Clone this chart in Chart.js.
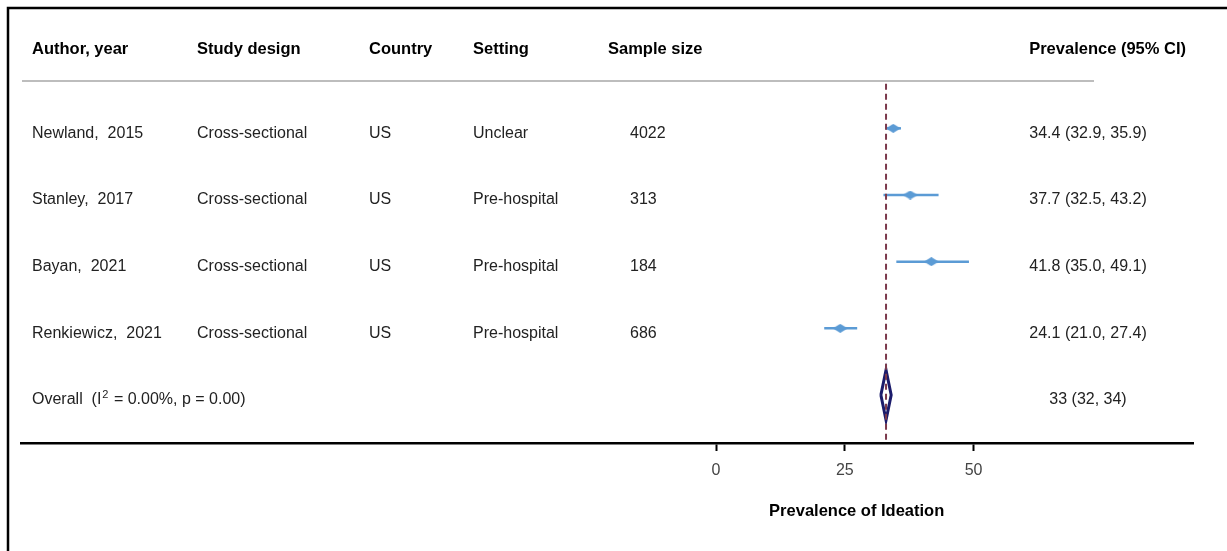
<!DOCTYPE html>
<html>
<head>
<meta charset="utf-8">
<script src="https://cdn.jsdelivr.net/npm/chart.js@4/dist/chart.umd.min.js"></script>
<style>
  html, body { margin: 0; padding: 0; background: #ffffff; }
  canvas { display: block; }
</style>
</head>
<body>
<canvas id="forest" width="1227" height="551"></canvas>
<script>
// ---- study table ----
const authors = ['Newland,  2015', 'Stanley,  2017', 'Bayan,  2021', 'Renkiewicz,  2021'];
const designs = ['Cross-sectional', 'Cross-sectional', 'Cross-sectional', 'Cross-sectional'];
const countries = ['US', 'US', 'US', 'US'];
const settings = ['Unclear', 'Pre-hospital', 'Pre-hospital', 'Pre-hospital'];
const sampleSizes = [4022, 313, 184, 686];

// ---- prevalence estimates (%) with 95% CI ----
const estimates = [34.4, 37.7, 41.8, 24.1];
const lowerCI = [32.9, 32.5, 35.0, 21.0];
const upperCI = [35.9, 43.2, 49.1, 27.4];

// ---- pooled estimate ----
const overallLabelParts = ['Overall  (I', '2', ' = 0.00%, p = 0.00)'];
const overallEstimate = 33;
const overallLower = 32;
const overallUpper = 34;

// ---- headers and axis ----
const headers = ['Author, year', 'Study design', 'Country', 'Setting', 'Sample size', 'Prevalence (95% CI)'];
const xTicks = [0, 25, 50];
const xTitle = 'Prevalence of Ideation';

// ---- layout / style ----
const FONT = '"Liberation Sans", Arial, sans-serif';
const X_MIN = -134.95, X_MAX = 92.6;
const Y_MIN = -0.71, Y_MAX = 4.72;
const DIAMOND_HALF = 0.375;          // half-height of the pooled diamond, in row units
const TEXT_DY = 5;                   // text sits slightly below the marker centre
const colX = [32, 197, 369, 473, 630];
const sampleHeaderX = 608;
const prevCenterX = 1088;
const prevHeaderRight = 1186;
const ciColor = '#5b9bd5';
const textColor = '#222222';

// flattened diamond marker for the study estimates
function makeMarker(w, h, color) {
  const c = document.createElement('canvas');
  c.width = w; c.height = h;
  const g = c.getContext('2d');
  g.fillStyle = color;
  g.beginPath();
  g.moveTo(0, h / 2); g.lineTo(w / 2, 0); g.lineTo(w, h / 2); g.lineTo(w / 2, h);
  g.closePath(); g.fill();
  return c;
}
const marker = makeMarker(15, 9, ciColor);

const nRows = authors.length;
const ciDatasets = estimates.map((_, i) => ({
  type: 'line',
  data: [{ x: lowerCI[i], y: i }, { x: upperCI[i], y: i }],
  borderColor: ciColor,
  borderWidth: 2.5,
  pointRadius: 0,
  fill: false,
  order: 3,
  clip: false
}));

const pointDataset = {
  type: 'scatter',
  data: estimates.map((v, i) => ({ x: v, y: i })),
  pointStyle: marker,
  pointRadius: 8,
  order: 2,
  clip: false
};

const diamondDataset = {
  type: 'line',
  data: [
    { x: overallLower, y: nRows },
    { x: overallEstimate, y: nRows - DIAMOND_HALF },
    { x: overallUpper, y: nRows },
    { x: overallEstimate, y: nRows + DIAMOND_HALF },
    { x: overallLower, y: nRows }
  ],
  borderColor: '#1b1b6b',
  borderWidth: 3,
  borderJoinStyle: 'miter',
  pointRadius: 0,
  fill: false,
  tension: 0,
  order: 1,
  clip: false
};

const refLineDataset = {
  type: 'line',
  data: [{ x: overallEstimate, y: Y_MIN + 0.04 }, { x: overallEstimate, y: Y_MAX }],
  borderColor: '#7b3a4c',
  borderWidth: 2,
  borderDash: [6, 4],
  pointRadius: 0,
  fill: false,
  order: 0,
  clip: false
};

const tablePlugin = {
  id: 'forestTable',
  afterDraw(chart) {
    const ctx = chart.ctx;
    const xs = chart.scales.x, ys = chart.scales.y;
    ctx.save();

    // frame
    ctx.strokeStyle = '#000';
    ctx.lineWidth = 2.5;
    ctx.strokeRect(8, 8, 1400, 800);

    // header row
    ctx.fillStyle = '#000';
    ctx.font = 'bold 16.5px ' + FONT;
    ctx.textBaseline = 'middle';
    ctx.textAlign = 'left';
    const hy = 49;
    for (let c = 0; c < 4; c++) ctx.fillText(headers[c], colX[c], hy);
    ctx.fillText(headers[4], sampleHeaderX, hy);
    ctx.textAlign = 'right';
    ctx.fillText(headers[5], prevHeaderRight, hy);

    // header rule
    ctx.strokeStyle = '#bdbdbd';
    ctx.lineWidth = 2;
    ctx.beginPath();
    ctx.moveTo(22, 81); ctx.lineTo(1094, 81);
    ctx.stroke();

    // study rows
    ctx.fillStyle = textColor;
    ctx.font = '16px ' + FONT;
    for (let i = 0; i < nRows; i++) {
      const y = ys.getPixelForValue(i) + TEXT_DY;
      ctx.textAlign = 'left';
      ctx.fillText(authors[i], colX[0], y);
      ctx.fillText(designs[i], colX[1], y);
      ctx.fillText(countries[i], colX[2], y);
      ctx.fillText(settings[i], colX[3], y);
      ctx.fillText(String(sampleSizes[i]), colX[4], y);
      ctx.textAlign = 'center';
      ctx.fillText(
        estimates[i].toFixed(1) + ' (' + lowerCI[i].toFixed(1) + ', ' + upperCI[i].toFixed(1) + ')',
        prevCenterX, y);
    }

    // pooled row, with a raised superscript
    const oy = ys.getPixelForValue(nRows) + TEXT_DY;
    ctx.textAlign = 'left';
    let tx = colX[0];
    ctx.fillText(overallLabelParts[0], tx, oy);
    tx += ctx.measureText(overallLabelParts[0]).width + 1;
    ctx.font = '11px ' + FONT;
    ctx.fillText(overallLabelParts[1], tx, oy - 5);
    tx += ctx.measureText(overallLabelParts[1]).width + 1;
    ctx.font = '16px ' + FONT;
    ctx.fillText(overallLabelParts[2], tx, oy);
    ctx.textAlign = 'center';
    ctx.fillText(overallEstimate + ' (' + overallLower + ', ' + overallUpper + ')', prevCenterX, oy);

    // axis title
    ctx.fillStyle = '#000';
    ctx.font = 'bold 16.5px ' + FONT;
    ctx.fillText(xTitle, xs.getPixelForValue(27.3), 511);

    ctx.restore();
  }
};

new Chart(document.getElementById('forest'), {
  data: {
    datasets: [refLineDataset, diamondDataset, pointDataset, ...ciDatasets]
  },
  options: {
    responsive: false,
    animation: false,
    events: [],
    layout: { padding: { left: 21, right: 34, top: 81, bottom: 0 } },
    plugins: { legend: { display: false }, tooltip: { enabled: false } },
    scales: {
      x: {
        type: 'linear',
        min: X_MIN,
        max: X_MAX,
        afterBuildTicks: s => { s.ticks = xTicks.map(v => ({ value: v })); },
        afterFit: s => { s.height = 108; },
        border: { display: true, color: '#000', width: 2.5 },
        grid: { drawOnChartArea: false, drawTicks: true, tickLength: 8, tickColor: '#000', tickWidth: 2 },
        ticks: { color: '#444', font: { family: FONT, size: 16 }, padding: 10, maxRotation: 0, autoSkip: false }
      },
      y: { type: 'linear', min: Y_MIN, max: Y_MAX, reverse: true, display: false }
    }
  },
  plugins: [tablePlugin]
});
</script>
</body>
</html>
